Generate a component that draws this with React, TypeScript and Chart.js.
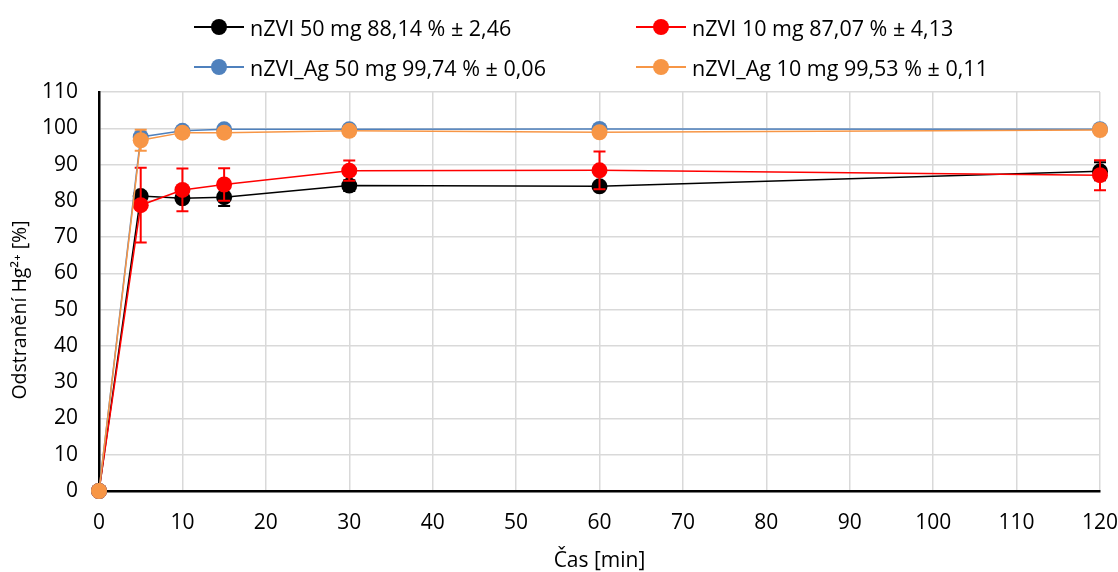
import React, { useEffect, useRef } from "react";
import Chart from "chart.js/auto";

const times = [0, 5, 10, 15, 30, 60, 120];
const nzvi50 = [0, 81.3, 80.7, 81.0, 84.2, 84.0, 88.14];
const nzvi50Err = [0, 1.0, 0.8, 2.4, 1.5, 0.8, 2.46];
const nzvi10 = [0, 78.8, 83.0, 84.5, 88.3, 88.4, 87.07];
const nzvi10Err = [0, 10.3, 5.9, 4.5, 2.8, 5.2, 4.13];
const nzviAg50 = [0, 97.6, 99.3, 99.7, 99.7, 99.8, 99.74];
const nzviAg50Err = [0, 0.5, 0.3, 0.2, 0.2, 0.1, 0.06];
const nzviAg10 = [0, 96.7, 98.8, 98.8, 99.3, 98.9, 99.53];
const nzviAg10Err = [0, 2.9, 0.5, 0.4, 0.3, 0.3, 0.11];

const seriesNames = [
  "nZVI 50 mg 88,14 % ± 2,46",
  "nZVI 10 mg 87,07 % ± 4,13",
  "nZVI_Ag 50 mg 99,74 % ± 0,06",
  "nZVI_Ag 10 mg 99,53 % ± 0,11",
];
const seriesColors = ["#000000", "#FF0000", "#4F81BD", "#F79646"];

const xTitle = "Čas [min]";
const yTitle = "Odstranění Hg²⁺ [%]";

const FONT = "'Open Sans', sans-serif";
const FS = 21;

const errorBarPlugin = {
  id: "errorBars",
  afterDatasetDraw(chart: any, args: any) {
    const ds: any = chart.data.datasets[args.index];
    if (!ds.errors) return;
    const ctx = chart.ctx;
    const xs = chart.scales.x;
    const ys = chart.scales.y;
    ctx.save();
    ctx.strokeStyle = ds.borderColor;
    ctx.lineWidth = 2;
    ds.data.forEach((p: any, i: number) => {
      const e = ds.errors[i];
      if (!e) return;
      const x = xs.getPixelForValue(p.x);
      const yt = ys.getPixelForValue(p.y + e);
      const yb = ys.getPixelForValue(p.y - e);
      ctx.beginPath();
      ctx.moveTo(x, yt);
      ctx.lineTo(x, yb);
      ctx.moveTo(x - 6, yt);
      ctx.lineTo(x + 6, yt);
      ctx.moveTo(x - 6, yb);
      ctx.lineTo(x + 6, yb);
      ctx.stroke();
    });
    ctx.restore();
  },
};

const axisTitlePlugin = {
  id: "axisTitles",
  afterDraw(chart: any) {
    const ctx = chart.ctx;
    const area = chart.chartArea;
    ctx.save();
    ctx.fillStyle = "#000";
    ctx.textAlign = "center";
    ctx.textBaseline = "middle";
    ctx.font = `${FS}px ${FONT}`;
    ctx.fillText(xTitle, (area.left + area.right) / 2, 561);
    ctx.translate(20, 310);
    ctx.rotate(-Math.PI / 2);
    ctx.font = `19.5px ${FONT}`;
    ctx.fillText(yTitle, 0, 0);
    ctx.restore();
  },
};

function mk(values: number[], errs: number[], idx: number, order: number) {
  return {
    label: seriesNames[idx],
    data: times.map((t, i) => ({ x: t, y: values[i] })),
    errors: errs,
    borderColor: seriesColors[idx],
    backgroundColor: seriesColors[idx],
    pointBackgroundColor: seriesColors[idx],
    pointBorderColor: seriesColors[idx],
    pointRadius: 8,
    pointBorderWidth: 0,
    borderWidth: 1.5,
    tension: 0,
    clip: false,
    order,
  };
}

export default function App() {
  const ref = useRef<HTMLCanvasElement | null>(null);
  useEffect(() => {
    document.body.style.margin = "0";
    const chart = new Chart(ref.current as HTMLCanvasElement, {
      type: "line",
      data: {
        datasets: [
          mk(nzvi50, nzvi50Err, 0, 3),
          mk(nzvi10, nzvi10Err, 1, 2),
          mk(nzviAg50, nzviAg50Err, 2, 1),
          mk(nzviAg10, nzviAg10Err, 3, 0),
        ] as any,
      },
      options: {
        responsive: false,
        animation: false,
        layout: { padding: { top: 92, right: 0, left: 0, bottom: 0 } },
        plugins: { legend: { display: false }, tooltip: { enabled: false } },
        scales: {
          x: {
            type: "linear",
            min: 0,
            max: 120,
            afterFit: (s: any) => {
              s.height = 81;
              s.paddingRight = 18;
              s.paddingLeft = 0;
            },
            ticks: {
              stepSize: 10,
              color: "#000",
              padding: 19,
              font: { family: FONT, size: FS },
            },
            grid: { color: "#d9d9d9", lineWidth: 1.5, drawTicks: false },
            border: { color: "#000", width: 2.5 },
          },
          y: {
            min: 0,
            max: 110,
            afterFit: (s: any) => {
              s.width = 99;
            },
            ticks: {
              stepSize: 10,
              color: "#000",
              padding: 21,
              font: { family: FONT, size: FS },
            },
            grid: { color: "#d9d9d9", lineWidth: 1.5, drawTicks: false },
            border: { color: "#000", width: 2.5 },
          },
        },
      },
      plugins: [errorBarPlugin, axisTitlePlugin],
    } as any);
    return () => chart.destroy();
  }, []);

  const legendPos = [
    { left: 194, top: 27 },
    { left: 636, top: 27 },
    { left: 194, top: 67 },
    { left: 636, top: 67 },
  ];

  return (
    <div style={{ position: "relative", width: 1118, height: 572, background: "#fff" }}>
      <canvas ref={ref} width={1118} height={572} style={{ display: "block" }} />
      {seriesNames.map((name, i) => (
        <div
          key={i}
          style={{
            position: "absolute",
            left: legendPos[i].left,
            top: legendPos[i].top - 14,
            height: 28,
            display: "flex",
            alignItems: "center",
            fontFamily: FONT,
            fontSize: 21.5,
            color: "#000",
            whiteSpace: "nowrap",
          }}
        >
          <div style={{ position: "relative", width: 50, height: 28, marginRight: 6 }}>
            <div
              style={{
                position: "absolute",
                left: 0,
                top: 13,
                width: 50,
                height: 2,
                background: seriesColors[i],
              }}
            />
            <div
              style={{
                position: "absolute",
                left: 17,
                top: 6,
                width: 16,
                height: 16,
                borderRadius: 8,
                background: seriesColors[i],
              }}
            />
          </div>
          <span>{name}</span>
        </div>
      ))}
    </div>
  );
}
